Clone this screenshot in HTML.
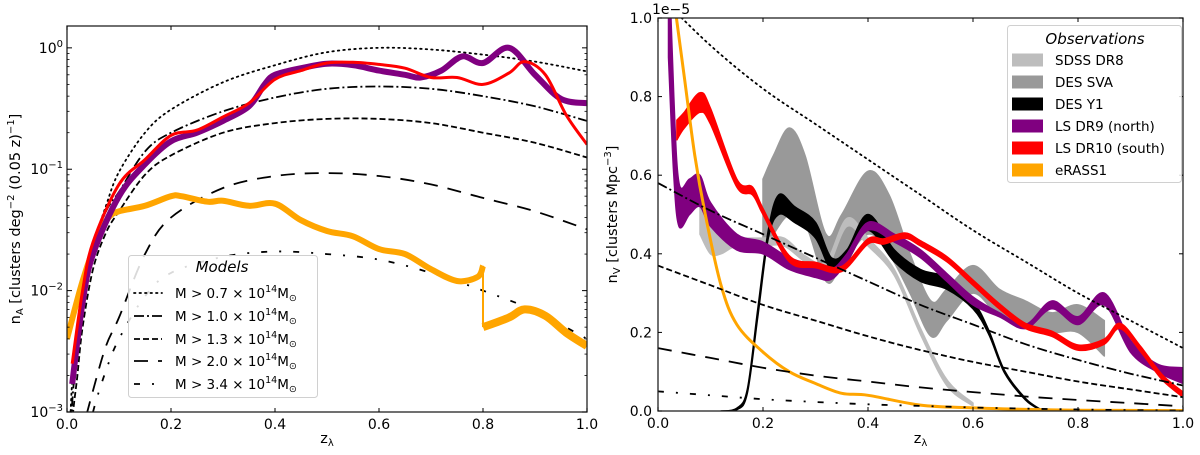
<!DOCTYPE html>
<html><head><meta charset="utf-8"><style>
html,body{margin:0;padding:0;background:#fff;overflow:hidden;}
svg{display:block;font-family:"DejaVu Sans","Liberation Sans",sans-serif;}
</style></head><body>
<svg id="fig" width="1200" height="455" viewBox="0 0 1200 455" xmlns="http://www.w3.org/2000/svg"></svg>
<script>
// ---------- LEFT PANEL DATA (n_A, log scale) ----------
const zModel = [0.005,0.01,0.02,0.03,0.05,0.075,0.1,0.15,0.2,0.3,0.4,0.5,0.6,0.7,0.8,0.9,1.0];
const mA07 = [0.0006,0.0018,0.005,0.009,0.023,0.05,0.095,0.2,0.31,0.52,0.72,0.92,1.0,0.97,0.88,0.77,0.64];
const mA10 = [0.0004,0.0012,0.0035,0.008,0.022,0.045,0.065,0.14,0.2,0.3,0.39,0.46,0.48,0.46,0.4,0.33,0.25];
const mA13 = [0.0002,0.0008,0.002,0.005,0.015,0.03,0.045,0.09,0.13,0.2,0.24,0.26,0.26,0.24,0.2,0.165,0.125];
const mA20 = [0.0001,0.0002,0.0004,0.0007,0.0015,0.0035,0.006,0.02,0.04,0.07,0.088,0.093,0.088,0.075,0.058,0.045,0.032];
const mA34 = [0.00005,0.0001,0.0002,0.0004,0.001,0.0022,0.004,0.009,0.014,0.019,0.021,0.02,0.018,0.014,0.01,0.0068,0.004];
const zDR9A = [0.01,0.03,0.05,0.1,0.15,0.2,0.25,0.3,0.35,0.38,0.4,0.45,0.5,0.55,0.6,0.65,0.68,0.72,0.76,0.8,0.85,0.9,0.95,1.0];
const vDR9A = [0.0017,0.008,0.02,0.06,0.11,0.17,0.2,0.25,0.33,0.5,0.6,0.68,0.74,0.72,0.65,0.6,0.57,0.65,0.85,0.75,1.0,0.6,0.38,0.35];
const zDR10A = [0.01,0.03,0.05,0.1,0.15,0.2,0.25,0.3,0.35,0.4,0.45,0.5,0.55,0.6,0.65,0.7,0.75,0.8,0.85,0.88,0.92,0.96,1.0];
const vDR10A = [0.0025,0.01,0.025,0.075,0.12,0.19,0.21,0.27,0.35,0.55,0.65,0.75,0.76,0.73,0.68,0.57,0.57,0.5,0.62,0.77,0.6,0.28,0.16];
const zERA1 = [0.0,0.03,0.06,0.08,0.1,0.15,0.2,0.22,0.27,0.3,0.35,0.4,0.45,0.5,0.55,0.6,0.65,0.7,0.75,0.79,0.8];
const vERA1 = [0.004,0.012,0.028,0.04,0.045,0.05,0.06,0.06,0.054,0.055,0.05,0.052,0.038,0.031,0.028,0.022,0.02,0.015,0.012,0.013,0.016];
const zERA2 = [0.8,0.85,0.88,0.92,0.96,1.0];
const vERA2 = [0.005,0.006,0.007,0.0062,0.0045,0.0035];
const yTicksA = [0.001,0.01,0.1,1];
const yTickLabelsA = ["−3","−2","−1","0"];
const xTicks = [0,0.2,0.4,0.6,0.8,1.0];
const xTickLabels = ["0.0","0.2","0.4","0.6","0.8","1.0"];

// ---------- RIGHT PANEL DATA (n_V, units 1e-5) ----------
const zMV = [0,0.1,0.2,0.3,0.4,0.5,0.6,0.7,0.8,0.9,1.0];
const mV07 = [1.06,0.93,0.82,0.73,0.64,0.55,0.46,0.38,0.3,0.23,0.16];
const mV10 = [0.58,0.51,0.45,0.39,0.33,0.27,0.22,0.17,0.13,0.095,0.065];
const mV13 = [0.37,0.32,0.27,0.23,0.19,0.155,0.125,0.1,0.075,0.055,0.035];
const mV20 = [0.16,0.135,0.11,0.09,0.075,0.06,0.048,0.037,0.028,0.02,0.012];
const mV34 = [0.05,0.04,0.03,0.023,0.017,0.013,0.009,0.006,0.004,0.002,0.001];
const zSVA = [0.2,0.22,0.25,0.28,0.32,0.35,0.4,0.44,0.48,0.52,0.55,0.6,0.65,0.7,0.75,0.8,0.85];
const loSVA = [0.4,0.45,0.5,0.48,0.33,0.37,0.45,0.4,0.3,0.19,0.23,0.3,0.24,0.22,0.2,0.2,0.14];
const hiSVA = [0.59,0.65,0.72,0.65,0.45,0.5,0.61,0.55,0.4,0.28,0.31,0.37,0.31,0.28,0.25,0.27,0.23];
const zSDSS = [0.08,0.1,0.12,0.15,0.2,0.24,0.28,0.32,0.36,0.4,0.45,0.5,0.55,0.6];
const loSDSS = [0.45,0.4,0.4,0.42,0.42,0.42,0.38,0.36,0.47,0.42,0.345,0.195,0.065,0.013];
const hiSDSS = [0.52,0.47,0.44,0.44,0.44,0.44,0.395,0.38,0.49,0.44,0.36,0.21,0.08,0.02];
const zY1 = [0.12,0.15,0.17,0.19,0.21,0.23,0.26,0.3,0.33,0.36,0.4,0.45,0.5,0.55,0.6,0.63,0.66,0.7,0.73];
const loY1 = [0,0.003,0.045,0.24,0.44,0.5,0.48,0.44,0.36,0.38,0.46,0.38,0.33,0.31,0.26,0.195,0.097,0.028,0.001];
const hiY1 = [0,0.007,0.055,0.26,0.46,0.55,0.52,0.48,0.39,0.41,0.5,0.41,0.36,0.34,0.28,0.205,0.103,0.032,0.003];
const zDR9V = [0.02,0.03,0.04,0.06,0.08,0.1,0.15,0.2,0.25,0.3,0.33,0.36,0.4,0.45,0.5,0.55,0.6,0.65,0.7,0.75,0.8,0.85,0.9,0.95,1.0];
const loDR9V = [0.9,0.6,0.47,0.5,0.52,0.47,0.41,0.4,0.36,0.34,0.335,0.38,0.46,0.43,0.39,0.33,0.27,0.24,0.21,0.26,0.22,0.27,0.15,0.1,0.07];
const hiDR9V = [1.2,0.8,0.58,0.59,0.6,0.53,0.45,0.43,0.39,0.37,0.36,0.4,0.48,0.45,0.41,0.35,0.29,0.25,0.22,0.28,0.24,0.3,0.18,0.12,0.11];
const zDR10V = [0.036,0.05,0.08,0.1,0.15,0.18,0.2,0.25,0.3,0.35,0.4,0.43,0.47,0.5,0.55,0.6,0.65,0.7,0.75,0.8,0.85,0.88,0.92,0.96,1.0];
const loDR10V = [0.69,0.72,0.76,0.73,0.57,0.55,0.5,0.38,0.365,0.355,0.425,0.425,0.44,0.42,0.38,0.32,0.26,0.21,0.19,0.155,0.17,0.21,0.15,0.08,0.035];
const hiDR10V = [0.74,0.76,0.81,0.77,0.59,0.57,0.515,0.395,0.378,0.368,0.438,0.438,0.453,0.433,0.393,0.333,0.273,0.223,0.203,0.168,0.183,0.223,0.163,0.093,0.048];
const zER = [0.03,0.05,0.07,0.09,0.12,0.15,0.2,0.25,0.3,0.35,0.4,0.5,0.6,0.7,0.8,1.0];
const vER = [1.05,0.85,0.65,0.5,0.32,0.22,0.15,0.1,0.07,0.045,0.04,0.015,0.008,0.004,0.002,0.001];
const yTicksV = [0,0.2,0.4,0.6,0.8,1.0];
const yTickLabelsV = ["0.0","0.2","0.4","0.6","0.8","1.0"];

// ---------- helpers ----------
const NS="http://www.w3.org/2000/svg";
const fig=document.getElementById('fig');
function mk(tag,attrs,parent){const e=document.createElementNS(NS,tag);for(const k in attrs)e.setAttribute(k,attrs[k]);(parent||fig).appendChild(e);return e;}
function smooth(pts){
  if(pts.length<2)return "";
  let d="M"+pts[0][0].toFixed(1)+","+pts[0][1].toFixed(1);
  for(let i=0;i<pts.length-1;i++){
    const p0=pts[i-1]||pts[i],p1=pts[i],p2=pts[i+1],p3=pts[i+2]||p2;
    const c1=[p1[0]+(p2[0]-p0[0])/6,p1[1]+(p2[1]-p0[1])/6];
    const c2=[p2[0]-(p3[0]-p1[0])/6,p2[1]-(p3[1]-p1[1])/6];
    d+="C"+c1[0].toFixed(1)+","+c1[1].toFixed(1)+" "+c2[0].toFixed(1)+","+c2[1].toFixed(1)+" "+p2[0].toFixed(1)+","+p2[1].toFixed(1);
  }
  return d;
}
function smoothCont(pts){return smooth(pts).replace(/^M/,"L");}

const LA={x0:67,x1:587,yTop:26,yBot:412,lmin:-3,lmax:0.18};
const lxs=z=>LA.x0+z*(LA.x1-LA.x0);
const lys=v=>LA.yBot-(Math.log10(v)-LA.lmin)/(LA.lmax-LA.lmin)*(LA.yBot-LA.yTop);
const RA={x0:658,x1:1183,yTop:18,yBot:411};
const rxs=z=>RA.x0+z*(RA.x1-RA.x0);
const rys=v=>RA.yBot-v*(RA.yBot-RA.yTop);

const clipL=mk('clipPath',{id:'clipL'});mk('rect',{x:LA.x0,y:LA.yTop,width:LA.x1-LA.x0,height:LA.yBot-LA.yTop},clipL);
const clipR=mk('clipPath',{id:'clipR'});mk('rect',{x:RA.x0,y:RA.yTop,width:RA.x1-RA.x0,height:RA.yBot-RA.yTop},clipR);

const gL=mk('g',{'clip-path':'url(#clipL)'});


const gR=mk('g',{'clip-path':'url(#clipR)'});



const styles={
 m07:{dash:"1.5 4",cap:"round",w:1.8},
 m10:{dash:"10 3 2 3",cap:"butt",w:1.8},
 m13:{dash:"6 3",cap:"butt",w:1.8},
 m20:{dash:"14 10",cap:"butt",w:1.8},
 m34:{dash:"6 12 2 12",cap:"butt",w:1.8}
};
function modelLine(g,zs,vs,xs,ys,st,name){
  const pts=zs.map((z,i)=>[xs(z),ys(vs[i])]);
  const p=mk('path',{d:smooth(pts),fill:'none',stroke:'#000','stroke-width':st.w,'stroke-dasharray':st.dash,'stroke-linecap':st.cap},g);
  
  
}
function obsLine(g,zs,vs,xs,ys,color,w,name){
  const pts=zs.map((z,i)=>[xs(z),ys(vs[i])]);
  const p=mk('path',{d:smooth(pts),fill:'none',stroke:color,'stroke-width':w,'stroke-linejoin':'round'},g);
  
  
}
function band(g,zs,lo,hi,xs,ys,color,name){
  const up=zs.map((z,i)=>[xs(z),ys(hi[i])]);
  const dn=zs.map((z,i)=>[xs(z),ys(lo[i])]).reverse();
  const d=smooth(up)+smoothCont(dn)+"Z";
  const p=mk('path',{d:d,fill:color,stroke:color,'stroke-width':1.5,'stroke-linejoin':'round'},g);
  
  
}

modelLine(gL,zModel,mA07,lxs,lys,styles.m07,'left-model-m07');
modelLine(gL,zModel,mA10,lxs,lys,styles.m10,'left-model-m10');
modelLine(gL,zModel,mA13,lxs,lys,styles.m13,'left-model-m13');
modelLine(gL,zModel,mA20,lxs,lys,styles.m20,'left-model-m20');
modelLine(gL,zModel,mA34,lxs,lys,styles.m34,'left-model-m34');
obsLine(gL,zERA1,vERA1,lxs,lys,'#ffa500',6,'left-erass1-lowz');
obsLine(gL,zERA2,vERA2,lxs,lys,'#ffa500',8,'left-erass1-highz');
const jump=mk('line',{x1:lxs(0.8),y1:lys(vERA1[vERA1.length-1]),x2:lxs(0.8),y2:lys(vERA2[0]),stroke:'#ffa500','stroke-width':2},gL);


obsLine(gL,zDR9A,vDR9A,lxs,lys,'#800080',6,'left-ls-dr9');
obsLine(gL,zDR10A,vDR10A,lxs,lys,'#ff0000',3,'left-ls-dr10');

band(gR,zSVA,loSVA,hiSVA,rxs,rys,'#999999','right-des-sva');
band(gR,zSDSS,loSDSS,hiSDSS,rxs,rys,'#bdbdbd','right-sdss-dr8');
band(gR,zY1,loY1,hiY1,rxs,rys,'#000000','right-des-y1');
band(gR,zDR9V,loDR9V,hiDR9V,rxs,rys,'#800080','right-ls-dr9');
band(gR,zDR10V,loDR10V,hiDR10V,rxs,rys,'#ff0000','right-ls-dr10');
obsLine(gR,zER,vER,rxs,rys,'#ffa500',3,'right-erass1');
modelLine(gR,zMV,mV07,rxs,rys,styles.m07,'right-model-m07');
modelLine(gR,zMV,mV10,rxs,rys,styles.m10,'right-model-m10');
modelLine(gR,zMV,mV13,rxs,rys,styles.m13,'right-model-m13');
modelLine(gR,zMV,mV20,rxs,rys,styles.m20,'right-model-m20');
modelLine(gR,zMV,mV34,rxs,rys,styles.m34,'right-model-m34');

function frame(A,name){
  const r=mk('rect',{x:A.x0,y:A.yTop,width:A.x1-A.x0,height:A.yBot-A.yTop,fill:'none',stroke:'#222','stroke-width':1.3});
  
  
}
frame(LA,'left-axes-frame');frame(RA,'right-axes-frame');
function xAxis(A,xs,prefix){
  xTicks.forEach((z,i)=>{
    const x=xs(z);
    mk('line',{x1:x,y1:A.yBot,x2:x,y2:A.yBot-4,stroke:'#000','stroke-width':1});
    mk('line',{x1:x,y1:A.yTop,x2:x,y2:A.yTop+4,stroke:'#000','stroke-width':1});
    const t=mk('text',{x:x,y:A.yBot+17,'font-size':14,'text-anchor':'middle'});
    t.textContent=xTickLabels[i];
    
    
  });
  const t=mk('text',{x:(A.x0+A.x1)/2,y:443,'font-size':14.5,'text-anchor':'middle'});
  t.innerHTML='z<tspan font-size="10" dy="3">λ</tspan>';
  
  
}
xAxis(LA,lxs,'left');xAxis(RA,rxs,'right');
yTicksA.forEach((v,i)=>{
  const y=lys(v);
  mk('line',{x1:LA.x0,y1:y,x2:LA.x0+5,y2:y,stroke:'#000','stroke-width':1});
  mk('line',{x1:LA.x1,y1:y,x2:LA.x1-5,y2:y,stroke:'#000','stroke-width':1});
  const t=mk('text',{x:LA.x0-4,y:y+5,'font-size':14,'text-anchor':'end'});
  t.innerHTML='10<tspan font-size="10" dy="-6">'+yTickLabelsA[i]+'</tspan>';
  
  
  for(let k=2;k<10;k++){const yy=lys(v*k);if(yy>=LA.yTop){
    mk('line',{x1:LA.x0,y1:yy,x2:LA.x0+2.5,y2:yy,stroke:'#000','stroke-width':0.8});
    mk('line',{x1:LA.x1,y1:yy,x2:LA.x1-2.5,y2:yy,stroke:'#000','stroke-width':0.8});}}
});
yTicksV.forEach((v,i)=>{
  const y=rys(v);
  mk('line',{x1:RA.x0,y1:y,x2:RA.x0+4,y2:y,stroke:'#000','stroke-width':1});
  mk('line',{x1:RA.x1,y1:y,x2:RA.x1-4,y2:y,stroke:'#000','stroke-width':1});
  const t=mk('text',{x:RA.x0-6,y:y+5,'font-size':14,'text-anchor':'end'});
  t.textContent=yTickLabelsV[i];
  
  
});
let off=mk('text',{x:RA.x0-6,y:RA.yTop-4,'font-size':14});off.textContent='1e−5';


let yl=mk('text',{transform:'translate(20,'+((LA.yTop+LA.yBot)/2)+') rotate(-90)','font-size':14.5,'text-anchor':'middle'});
yl.innerHTML='n<tspan font-size="10" dy="3">A</tspan><tspan dy="-3"> [clusters deg</tspan><tspan font-size="10" dy="-6">−2</tspan><tspan dy="6"> (0.05 z)</tspan><tspan font-size="10" dy="-6">−1</tspan><tspan dy="6">]</tspan>';


let yr=mk('text',{transform:'translate(617,'+((RA.yTop+RA.yBot)/2)+') rotate(-90)','font-size':14.5,'text-anchor':'middle'});
yr.innerHTML='n<tspan font-size="10" dy="3">V</tspan><tspan dy="-3"> [clusters Mpc</tspan><tspan font-size="10" dy="-6">−3</tspan><tspan dy="6">]</tspan>';



const lg=mk('g',{});


mk('rect',{x:128.5,y:255.5,width:189,height:142,rx:3,fill:'#fff','fill-opacity':0.85,stroke:'#d0d0d0'},lg);
let lt=mk('text',{x:222,y:272,'font-size':15,'font-style':'italic','text-anchor':'middle'},lg);lt.textContent='Models';
const legM=[['m07','0.7'],['m10','1.0'],['m13','1.3'],['m20','2.0'],['m34','3.4']];
const legMy=[293,316,339,361,384];
legM.forEach((m,i)=>{
  const y=legMy[i];
  const st=styles[m[0]];
  const l=mk('line',{x1:134,y1:y,x2:162,y2:y,stroke:'#000','stroke-width':1.8,'stroke-dasharray':st.dash,'stroke-linecap':st.cap},lg);
  
  
  const t=mk('text',{x:175,y:y+5,'font-size':13.5},lg);
  t.innerHTML='M &gt; '+m[1]+' × 10<tspan font-size="9.5" dy="-6">14</tspan><tspan dy="6">M</tspan><tspan font-size="9.5" dy="3">⊙</tspan>';
  
  
});

const rg=mk('g',{});


mk('rect',{x:1007.5,y:25.5,width:174,height:157,rx:3,fill:'#fff','fill-opacity':0.85,stroke:'#d0d0d0'},rg);
let rt=mk('text',{x:1095,y:44,'font-size':15,'font-style':'italic','text-anchor':'middle'},rg);rt.textContent='Observations';
const legO=[['SDSS DR8','#bdbdbd'],['DES SVA','#999999'],['DES Y1','#000000'],['LS DR9 (north)','#800080'],['LS DR10 (south)','#ff0000'],['eRASS1','#ffa500']];
const legOy=[60,82,104,126,148,170];
legO.forEach((o,i)=>{
  const y=legOy[i];
  const r=mk('rect',{x:1012,y:y-6.5,width:31,height:13,fill:o[1]},rg);
  
  
  const t=mk('text',{x:1055,y:y+5,'font-size':13.5},rg);
  t.textContent=o[0];
  
  
});
</script>
</body></html>
